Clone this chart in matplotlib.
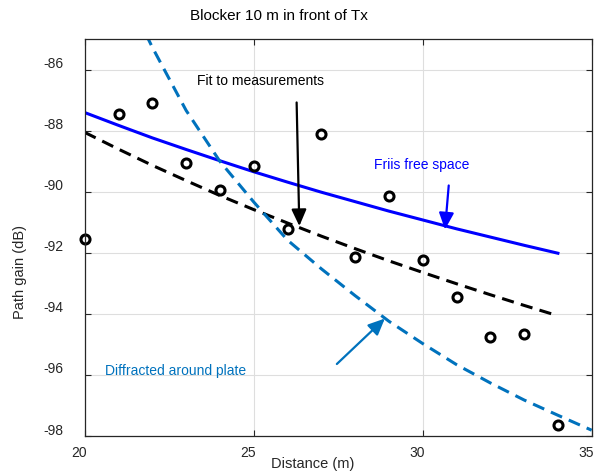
import matplotlib
matplotlib.use("Agg")
import matplotlib.pyplot as plt
import matplotlib.transforms as mtransforms

plt.rcParams['font.family'] = ['Liberation Sans', 'DejaVu Sans']
plt.rcParams['axes.unicode_minus'] = False

# Datos medidos
distancia = [20, 21, 22, 23, 24, 25, 26, 27, 28, 29, 30, 31, 32, 33, 34]
ganancia = [-91.56, -87.45, -87.09, -89.05, -89.93, -89.16, -91.21, -88.09,
            -92.13, -90.14, -92.23, -93.44, -94.77, -94.66, -97.63]

# Curvas
friis_x = [20, 21, 22, 23, 24, 25, 26, 27, 28, 29, 30, 31, 32, 33, 34]
friis_y = [-87.40, -87.82, -88.23, -88.61, -88.98, -89.34, -89.68, -90.01,
           -90.32, -90.63, -90.92, -91.21, -91.48, -91.75, -92.01]

ajuste_x = [20, 21, 22, 23, 24, 25, 26, 27, 28, 29, 30, 31, 32, 33, 34]
ajuste_y = [-88.05, -88.60, -89.13, -89.63, -90.12, -90.58, -91.02, -91.45,
            -91.86, -92.26, -92.64, -93.01, -93.37, -93.72, -94.06]

difr_x = [20, 21, 22, 23, 24, 25, 26, 27, 28, 29, 30, 31, 32, 33, 34, 35]
difr_y = [-80.6, -83.0, -85.26, -87.33, -89.0, -90.33, -91.58, -92.52, -93.40,
          -94.24, -94.97, -95.66, -96.26, -96.82, -97.32, -97.81]

xticks = [20, 25, 30, 35]
yticks = [-98, -96, -94, -92, -90, -88, -86]

azul_matlab = "#0072BD"

fig = plt.figure(figsize=(6.02, 4.73), dpi=100)
ax = fig.add_axes([0.1407, 0.0782, 0.8422, 0.8387])

ax.plot(friis_x, friis_y, color="#0000FF", linewidth=2.2)
ax.plot(ajuste_x, ajuste_y, color="black", linewidth=2.2, linestyle=(0, (4, 2.4)))
ax.plot(difr_x, difr_y, color=azul_matlab, linewidth=2.2, linestyle=(0, (4, 2.4)))
ax.plot(distancia, ganancia, linestyle="none", marker="o", markersize=6.5,
        markerfacecolor="none", markeredgecolor="black", markeredgewidth=2.2,
        clip_on=False)

ax.set_xlim(20, 35)
ax.set_ylim(-98, -85)
ax.set_xticks(xticks)
ax.set_yticks(yticks)
ax.grid(True, color="#dedede", linewidth=0.8)
ax.set_axisbelow(True)
ax.tick_params(direction="in", top=True, right=True, length=4, width=0.8,
               colors="#262626", labelsize=10)
ax.tick_params(axis="y", pad=15)
ax.tick_params(axis="x", pad=7)
for s in ax.spines.values():
    s.set_color("#262626")
    s.set_linewidth(0.9)

# Desplazamiento de las etiquetas como en el original
dx = mtransforms.ScaledTranslation(-6 / 100, 0, fig.dpi_scale_trans)
dy = mtransforms.ScaledTranslation(0, 7 / 100, fig.dpi_scale_trans)
for lab in ax.get_xticklabels():
    lab.set_transform(lab.get_transform() + dx)
for lab in ax.get_yticklabels():
    lab.set_transform(lab.get_transform() + dy)

# Textos y flechas
ax.text(23.31, -86.38, "Fit to measurements", fontsize=10, color="black", va="center")
ax.text(28.56, -89.12, "Friis free space", fontsize=10, color="#0000FF", va="center")
ax.text(20.6, -95.87, "Diffracted around plate", fontsize=10, color=azul_matlab, va="center")

flecha = "-|>,head_length=1.0,head_width=0.45"
ax.annotate("", xy=(26.35, -91.12), xytext=(26.27, -87.07),
            arrowprops=dict(arrowstyle=flecha, color="black", lw=1.6, shrinkA=0, shrinkB=0))
ax.annotate("", xy=(30.66, -91.23), xytext=(30.77, -89.79),
            arrowprops=dict(arrowstyle=flecha, color="#0000FF", lw=1.6, shrinkA=0, shrinkB=0))
ax.annotate("", xy=(28.88, -94.15), xytext=(27.46, -95.64),
            arrowprops=dict(arrowstyle=flecha, color=azul_matlab, lw=1.6, shrinkA=0, shrinkB=0))

fig.text(0.4635, 0.966, "Blocker 10 m in front of Tx", fontsize=11, color="black",
         ha="center", va="center")
fig.text(0.52, 0.019, "Distance (m)", fontsize=10.5, color="#262626", ha="center", va="center")
fig.text(0.033, 0.425, "Path gain (dB)", fontsize=10.5, color="#262626", ha="center",
         va="center", rotation=90)

fig.savefig("out.png", dpi=100)
